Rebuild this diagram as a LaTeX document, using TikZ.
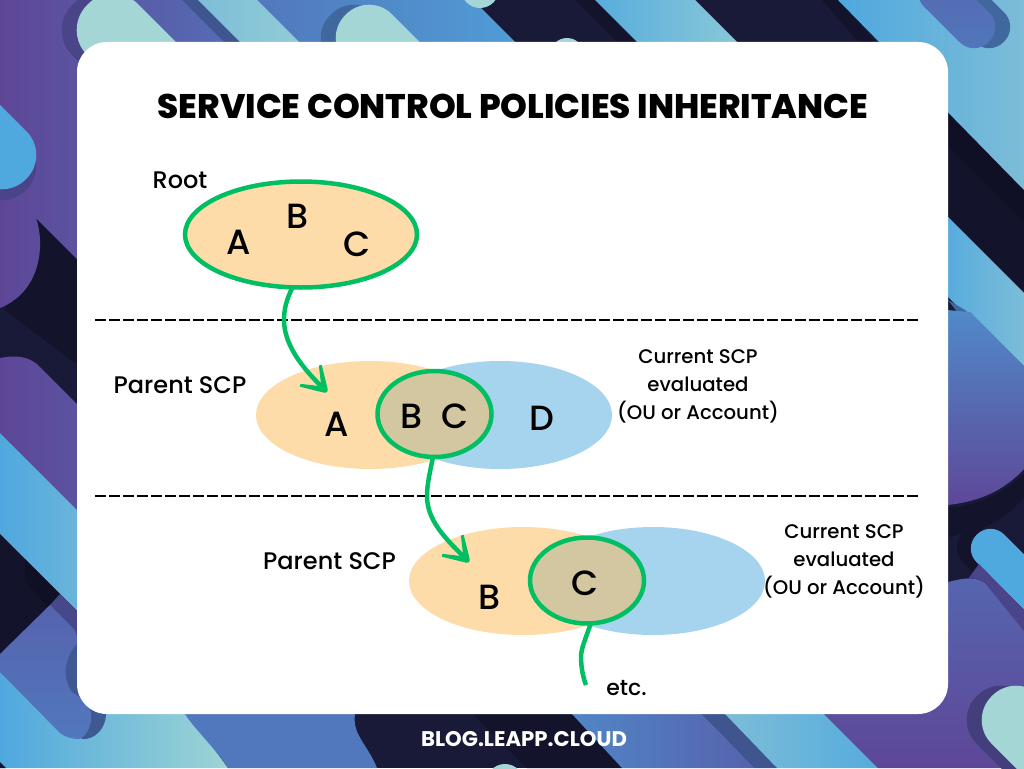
\documentclass[tikz,border=0pt]{standalone}
\usepackage{fontspec}
\setmainfont{Poppins Medium}[BoldFont={Poppins Bold}]
\newfontfamily\titlefont{Poppins ExtraBold}
\usetikzlibrary{arrows.meta,shapes.geometric}
\definecolor{navy}{HTML}{191938}
\definecolor{navyd}{HTML}{13132C}
\definecolor{navyx}{HTML}{0F0F25}
\definecolor{mint}{HTML}{A3D6D4}
\definecolor{lblue}{HTML}{4FA8DE}
\definecolor{pale}{HTML}{9DD4D5}
\definecolor{sky}{HTML}{7CBDD8}
\definecolor{midb}{HTML}{5178BC}
\definecolor{indigo}{HTML}{5566B0}
\definecolor{purp}{HTML}{5E4697}
\definecolor{shadb}{HTML}{3F5590}
\definecolor{shadt}{HTML}{41689E}
\definecolor{shadp}{HTML}{4A4488}
\definecolor{orangeF}{HTML}{FEDCAA}
\definecolor{blueF}{HTML}{A6D3EE}
\definecolor{overF}{HTML}{D2C7A1}
\definecolor{greenL}{HTML}{00BF63}
\pgfdeclarearrow{
  name=Swoosh,
  setup code={\pgfarrowssettipend{2pt}\pgfarrowssetlineend{-8pt}\pgfarrowssetvisualbackend{-8pt}\pgfarrowssetbackend{-22.5pt}},
  drawing code={
    \pgfpathmoveto{\pgfqpoint{0.5pt}{2.5pt}}
    \pgfpathlineto{\pgfqpoint{-21pt}{15.5pt}}
    \pgfpathlineto{\pgfqpoint{-22.5pt}{13pt}}
    \pgfpathlineto{\pgfqpoint{-9pt}{2.3pt}}
    \pgfpathlineto{\pgfqpoint{-9pt}{-2.3pt}}
    \pgfpathlineto{\pgfqpoint{-22.5pt}{-13pt}}
    \pgfpathlineto{\pgfqpoint{-21pt}{-15.5pt}}
    \pgfpathlineto{\pgfqpoint{0.5pt}{-2.5pt}}
    \pgfpathcurveto{\pgfqpoint{1.5pt}{-1.5pt}}{\pgfqpoint{2pt}{-0.5pt}}{\pgfqpoint{2pt}{0pt}}
    \pgfpathcurveto{\pgfqpoint{2pt}{0.5pt}}{\pgfqpoint{1.5pt}{1.5pt}}{\pgfqpoint{0.5pt}{2.5pt}}
    \pgfpathclose
    \pgfusepathqfill
  }
}
\newcommand{\capsule}[6]{% cx cy r L sign options
  \path[#6,rounded corners=#3*0.98]
    ({#1+.7071*#3*(1-#5)},{#2-.7071*#3*(1+#5)}) --
    ({#1-.7071*#3*(1+#5)},{#2+.7071*#3*(1-#5)}) --
    ({#1+.7071*(#4*#5-#3)},{#2+.7071*(#4*#5+#3)}) --
    ({#1+.7071*(#4*#5+#3)},{#2+.7071*(#4*#5-#3)}) -- cycle;}
\tikzset{
  parentE/.style={ellipse,inner sep=0pt,outer sep=0pt,fill=orangeF,minimum width=228pt,minimum height=108pt},
  currentE/.style={ellipse,inner sep=0pt,outer sep=0pt,fill=blueF,minimum width=224pt,minimum height=108pt},
  overE/.style={ellipse,inner sep=0pt,outer sep=0pt,fill=overF,draw=greenL,line width=4.5pt,minimum width=114pt,minimum height=86pt},
  rootE/.style={ellipse,inner sep=0pt,outer sep=0pt,fill=orangeF,draw=greenL,line width=4.5pt,minimum width=232pt,minimum height=106pt},
  letter/.style={inner sep=0pt,font=\fontsize{35}{35}\selectfont},
  label/.style={inner sep=0pt,font=\fontsize{24}{28}\selectfont},
  small/.style={inner sep=0pt,align=center,font=\fontsize{19.7}{28}\selectfont},
  link/.style={draw=greenL,fill=none,line width=4.5pt},
  flow/.style={link,-{Swoosh}},
  divider/.style={black,line width=1.9pt,dash pattern=on 11pt off 3pt}
}
\begin{document}
\begin{tikzpicture}[x=1pt,y=-1pt]
\useasboundingbox (0,0) rectangle (1024,768);
\begin{scope}
\clip (0,0) rectangle (1024,768);
\fill[navy] (0,0) rectangle (1024,768);
% --- left side and top
\fill[navyd] (36,218) -- (77,260) -- (100,382) -- (5,310) -- cycle;
\shade[left color=purp,right color=midb] (0,0) -- (300,0) -- (300,482) -- (36,218) .. controls (44,240) and (44,290) .. (0,308) -- cycle;
\shade[left color=midb,right color=lblue] (257,0) -- (473,0) -- (600,127) -- (257,127) -- cycle;
\fill[shadb] (182,0) -- (198,0) -- (300,102) -- (284,102) -- cycle;
\shade[left color=sky,right color=pale] (198,0) -- (257,0) -- (357,100) -- (298,100) -- cycle;
\capsule{98}{30}{36}{140}{1}{fill=shadp}
\capsule{113}{30}{36}{140}{1}{fill=mint}
\capsule{354}{38}{33}{120}{1}{fill=shadt}
\capsule{369}{38}{33}{120}{1}{fill=mint}
\fill[mint] (480,-11) circle (19);
\fill[mint] (567,55) circle (17);
\fill[navyd] (575,0) -- (595,0) -- (700,105) -- (680,105) -- cycle;
\shade[left color=lblue!80!sky,right color=pale] (595,0) -- (695,0) -- (800,105) -- (700,105) -- cycle;
% left capsule
\capsule{2}{166}{34}{100}{-1}{fill=shadp}
\capsule{2}{155}{34}{100}{-1}{fill=lblue}
% lower left
\shade[left color=purp,right color=indigo] (0,358) .. controls (15,355) and (28,356) .. (38,365) -- (200,527) -- (0,527) -- cycle;
\shade[left color=lblue,right color=sky] (0,433) -- (130,563) -- (130,664) -- (0,534) -- cycle;
\fill[navyd] (0,534) -- (60,594) -- (0,654) -- cycle;
\fill[navyx] (25,559) -- (77,611) -- (60,622) -- (25,580) -- cycle;
\shade[left color=lblue,right color=pale] (0,668) -- (60,700) -- (185,714) -- (200,730) -- (228,768) -- (0,768) -- cycle;
\fill[navyd] (0,762) -- (6,768) -- (0,768) -- cycle;
\fill[shadp!75!shadb] (60,594) -- (110,644) -- (110,700) -- (60,640) -- (50,605) -- cycle;
\fill[shadb!80!shadt] (80,680) -- (100,690) -- (106,714) .. controls (106,728) and (95,740) .. (82,739) -- (60,715) -- cycle;
\shade[top color=indigo!90!purp,bottom color=midb] (0,654) -- (50,605) -- (72,627) .. controls (78,633) and (78,640) .. (76,647) -- (85,700) -- (91,712) .. controls (93,725) and (85,739) .. (78,739) .. controls (72,739) and (65,737) .. (60,733) -- (0,672) -- cycle;
\fill[shadb!80!shadt] (80,640) .. controls (66,655) and (60,675) .. (72,692) -- (84,700) -- (110,690) -- (110,640) -- cycle;
% --- bottom strip
\fill[midb] (185,714) .. controls (192,726) and (215,748) .. (228,768) -- (377,768) .. controls (368,745) and (352,735) .. (355,714) -- cycle;
\fill[navyd] (473,714) -- (572,714) -- (622,768) -- (527,768) -- cycle;
\fill[mint] (505,783) circle (19);
\shade[left color=midb!70!lblue,right color=indigo!85!purp] (572,714) -- (702,714) -- (755,768) -- (622,768) -- cycle;
\fill[shadb] (702,714) -- (725,714) -- (777,768) -- (755,768) -- cycle;
\shade[left color=sky,right color=lblue!85!sky] (725,714) -- (824,714) -- (878,768) -- (777,768) -- cycle;
% --- right side
\fill[navyd] (822,0) -- (838,0) -- (875,42) -- (859,42) -- cycle;
\fill[navyd] (930,70) -- (1024,163) -- (1024,295) -- (930,200) -- cycle;
\fill[navyx] (930,95) -- (1024,190) -- (1024,222) -- (930,127) -- cycle;
\shade[left color=lblue,right color=sky] (838,0) -- (1024,0) -- (1024,190) -- cycle;
\capsule{989}{27}{21}{70}{-1}{fill=shadt}
\capsule{974}{27}{21}{70}{-1}{top color=indigo,bottom color=midb}
\shade[left color=lblue,right color=sky] (930,199) -- (1024,293) -- (1024,373) -- (930,279) -- cycle;
\fill[shadt] (948,300) -- (965,310) -- (1024,367) -- (1024,400) -- cycle;
\shade[top color=midb!60!lblue,bottom color=purp] (900,306) -- (970,312) -- (1040,382) -- (1040,450) .. controls (1010,490) and (980,510) .. (900,506) -- cycle;
\fill[navyd] (948,508) .. controls (985,505) and (1005,490) .. (1024,474) -- (1024,497) .. controls (1005,520) and (985,530) .. (948,537) -- cycle;
\capsule{977}{548}{20}{90}{1}{fill=navyd}
\capsule{990.5}{548.5}{19.5}{90}{1}{fill=lblue}
\shade[top color=indigo,bottom color=purp] (900,600) .. controls (945,582) and (970,572) .. (985,583) -- (1024,622) -- (1024,768) -- (878,768) -- (824,714) -- (900,700) -- cycle;
\fill[shadp] (979,564) -- (1024,610) -- (1024,631) -- (985,583) .. controls (980,579) and (975,578) .. (968,579) -- cycle;
\capsule{1001}{720}{34}{100}{1}{fill=shadp!85!navy}
\capsule{1016}{720}{34}{100}{1}{fill=mint}
\end{scope}
% --- card
\node[fill=white,rounded corners=30pt,inner sep=0pt,outer sep=0pt,minimum width=871pt,minimum height=672pt] (card) at (512.5,378) {};
% --- title
\node[inner sep=0pt,font=\fontsize{34.1}{36}\selectfont\titlefont] (title) at (513,106) {SERVICE CONTROL POLICIES INHERITANCE};
\node[inner sep=0pt,text=white,font=\fontsize{21.2}{22}\selectfont\bfseries] (blog) at (524,739) {BLOG.LEAPP.CLOUD};
% --- dividers
\coordinate (d1a) at (95,320); \coordinate (d1b) at (920,320);
\coordinate (d2a) at (95,496); \coordinate (d2b) at (920,496);
\draw[divider] (d1a) -- (d1b);
\draw[divider] (d2a) -- (d2b);
% --- ellipses
\node[rootE] (root) at (301,234.5) {};
\node[currentE] (cur1) at (500,415) {};
\node[parentE] (par1) at (370,415) {};
\node[overE] (ov1) at (434.5,414) {};
\node[currentE] (cur2) at (653,581) {};
\node[parentE] (par2) at (523,581) {};
\node[overE] (ov2) at (587,580.5) {};
% --- letters
\node[letter] (ra) at (238.5,242) {A};
\node[letter] (rb) at (298,216) {B};
\node[letter] (rc) at (357.5,244) {C};
\node[letter] (ma) at (336.5,424) {A};
\node[letter] (mb) at (412,416) {B};
\node[letter] (mc) at (455.5,416) {C};
\node[letter] (md) at (541.5,418) {D};
\node[letter] (bb) at (490,597) {B};
\node[letter] (bc) at (585,583) {C};
% --- labels
\node[label] (lroot) at (180,180) {Root};
\node[label] (lp1) at (180,385) {Parent SCP};
\node[label] (lp2) at (329.5,561) {Parent SCP};
\node[small] (lc1) at (698,386.5) {Current SCP\\evaluated\\(OU or Account)};
\node[small] (lc2) at (844,561.5) {Current SCP\\evaluated\\(OU or Account)};
\node[label,font=\fontsize{22}{26}\selectfont] (letc) at (626.5,688) {etc.};
% --- connectors
\coordinate (tip1) at (327,392);
\coordinate (tip2) at (469,562);
\coordinate (tail) at (586,685);
\draw[flow] (root.261) .. controls (286,300) and (284,310) .. (284,320) .. controls (284,345) and (303,368) .. (tip1);
\draw[flow] (ov1.268) .. controls (430,472) and (427,484) .. (427,496) .. controls (427,520) and (445,538) .. (tip2);
\draw[link] (ov2.275) .. controls (586,638) and (581,648) .. (581,657) .. controls (581,667) and (583,677) .. (tail);
\end{tikzpicture}
\end{document}
